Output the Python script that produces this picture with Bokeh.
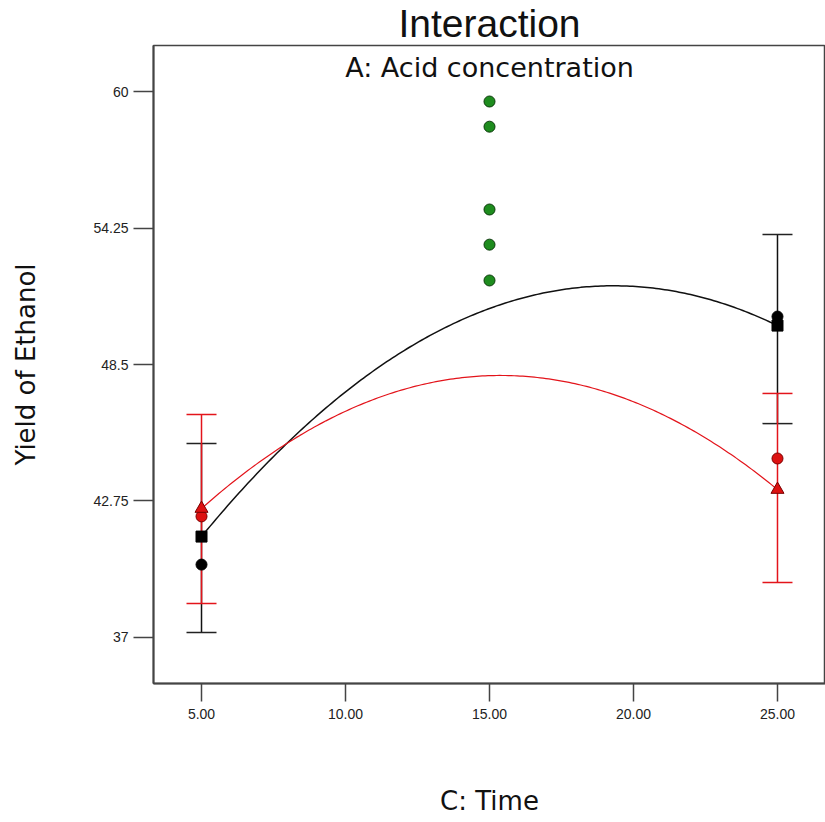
import numpy as np
from bokeh.plotting import figure
from bokeh.models import FixedTicker, Range1d
from bokeh.core.properties import value
from bokeh.embed import file_html
from bokeh.resources import INLINE

# ---- data ----
time_levels = [5.0, 25.0]
# black series
black_design = [40.07, 50.52]        # design points (circles)
black_pred = [41.25, 50.14]          # predicted (squares)
black_lsd_hi = [45.17, 53.98]
black_lsd_lo = [37.21, 46.01]
# red series
red_design = [42.10, 44.54]          # design points (circles)
red_pred = [42.43, 43.23]            # predicted (triangles)
red_lsd_hi = [46.39, 47.28]
red_lsd_lo = [38.43, 39.32]
# centre points
center_x = [15.0, 15.0, 15.0, 15.0, 15.0]
center_y = [59.58, 58.52, 55.03, 53.55, 52.04]
# model curve values read at 5, 15, 25
curve_x = [5.0, 15.0, 25.0]
black_curve = [41.25, 50.86, 50.14]
red_curve = [42.43, 48.03, 43.23]

x_ticks = [5, 10, 15, 20, 25]
x_tick_labels = ["5.00", "10.00", "15.00", "20.00", "25.00"]
y_ticks = [37, 42.75, 48.5, 54.25, 60]
y_tick_labels = ["37", "42.75", "48.5", "54.25", "60"]

FONT = "Liberation Sans"
WIDE = "DejaVu Sans"
RED = "#e3141b"

p = figure(width=825, height=822, output_backend="svg", toolbar_location=None,
           x_range=Range1d(3.333, 26.667), y_range=Range1d(35.06, 61.94),
           min_border_left=153, min_border_right=0, min_border_top=45,
           min_border_bottom=139)

p.title.text = "Interaction"
p.title.align = "center"
p.title.vertical_align = "middle"
p.title.text_font = FONT
p.title.text_font_size = "39px"
p.title.text_font_style = "normal"
p.title.text_line_height = 1.0
p.title.text_color = "#111111"
p.title.standoff = 0
p.title.offset = 0

p.grid.visible = False
p.outline_line_color = "#444444"
p.outline_line_width = 1.5
p.background_fill_color = "white"
p.border_fill_color = "white"

for ax in (p.xaxis[0], p.yaxis[0]):
    ax.axis_line_color = "#444444"
    ax.axis_line_width = 2
    ax.major_tick_line_color = "#444444"
    ax.major_tick_line_width = 1.5
    ax.major_tick_in = 0
    ax.minor_tick_line_color = None
    ax.major_label_text_font = FONT
    ax.major_label_text_font_size = "14px"
    ax.major_label_text_color = "#222222"
    ax.axis_label_text_font = WIDE
    ax.axis_label_text_font_size = "26px"
    ax.axis_label_text_font_style = "normal"
    ax.axis_label_text_color = "#111111"

p.xaxis.ticker = FixedTicker(ticks=x_ticks)
p.xaxis.major_label_overrides = {t: l for t, l in zip(x_ticks, x_tick_labels)}
p.xaxis.major_tick_out = 18
p.xaxis.major_label_standoff = 7
p.xaxis.axis_label = "C: Time"
p.xaxis.axis_label_standoff = 64

p.yaxis.ticker = FixedTicker(ticks=y_ticks)
p.yaxis.major_label_overrides = {t: l for t, l in zip(y_ticks, y_tick_labels)}
p.yaxis.major_tick_out = 20
p.yaxis.major_label_standoff = 5
p.yaxis.major_label_orientation = "horizontal"
p.yaxis.axis_label = "Yield of Ethanol"
p.yaxis.axis_label_standoff = 49

# model curves (quadratic through read values)
xs = np.linspace(5, 25, 200)
bc = np.polyfit(curve_x, black_curve, 2)
rc = np.polyfit(curve_x, red_curve, 2)
p.line(xs, np.polyval(bc, xs), line_color="#111111", line_width=1.5)
p.line(xs, np.polyval(rc, xs), line_color=RED, line_width=1.2)

# black error bars
p.segment(time_levels, black_lsd_lo, time_levels, black_lsd_hi, line_color="#111111", line_width=1.5)
p.scatter(time_levels + time_levels, black_lsd_hi + black_lsd_lo, marker="dash", size=30,
          line_color="#222222", line_width=1.5)
# red error bars
p.segment(time_levels, red_lsd_lo, time_levels, red_lsd_hi, line_color=RED, line_width=1.5)
p.scatter(time_levels + time_levels, red_lsd_hi + red_lsd_lo, marker="dash", size=30,
          line_color=RED, line_width=1.5)

# points
p.scatter(time_levels, black_design, marker="circle", size=11, fill_color="black", line_color="black")
p.scatter(time_levels, black_pred, marker="square", size=11, fill_color="black", line_color="black")
p.scatter(time_levels, red_design, marker="circle", size=11, fill_color="#dd1111", line_color="#7a0000")
p.scatter(time_levels, red_pred, marker="triangle", size=13, fill_color="#dd1111", line_color="#7a0000")
p.scatter(center_x, center_y, marker="circle", size=11, fill_color="#1e8c1e", line_color="#0a3a0a")

# subtitle inside plot
p.text(x=[15.0], y=[61.0], text=["A: Acid concentration"], text_font=value(WIDE),
       text_font_size="27px", text_align="center", text_baseline="middle", text_color="#111111")

open("out.html", "w").write(file_html(p, INLINE))
